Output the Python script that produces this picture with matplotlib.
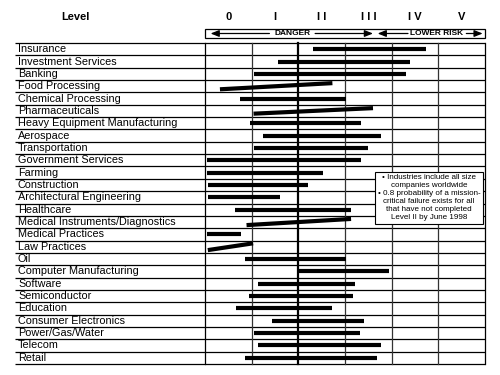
import matplotlib
matplotlib.use("Agg")
import matplotlib.pyplot as plt
import matplotlib.transforms as mtrans

plt.rcParams['font.family'] = ['Liberation Sans', 'DejaVu Sans']

industries = ["Insurance", "Investment Services", "Banking", "Food Processing",
              "Chemical Processing", "Pharmaceuticals", "Heavy Equipment Manufacturing",
              "Aerospace", "Transportation", "Government Services", "Farming",
              "Construction", "Architectural Engineering", "Healthcare",
              "Medical Instruments/Diagnostics", "Medical Practices", "Law Practices",
              "Oil", "Computer Manufacturing", "Software", "Semiconductor", "Education",
              "Consumer Electronics", "Power/Gas/Water", "Telecom", "Retail"]
start_level = [2.31, 1.56, 1.06, 0.32, 0.74, 1.04, 0.96, 1.24, 1.05, 0.04, 0.04,
               0.06, 0.06, 0.65, 0.89, 0.04, 0.06, 0.85, 2.00, 1.13, 0.94, 0.67,
               1.43, 1.04, 1.13, 0.85]
end_level = [4.73, 4.39, 4.31, 2.73, 3.03, 3.60, 3.35, 3.77, 3.50, 3.35, 2.53,
             2.21, 1.60, 3.13, 3.13, 0.77, 1.03, 3.03, 3.95, 3.21, 3.18, 2.72,
             3.41, 3.32, 3.78, 3.68]
# rise of the bar from its start to its end, in rows (slanted bars)
slant = [0, 0, 0, 0.5, 0, 0.45, 0, 0, 0, 0, 0, 0, 0, 0, 0.5, 0, 0.55,
         0, 0, 0, 0, 0, 0, 0, 0, 0]
level_labels = ["0", "I", "I I", "I I I", "I V", "V"]
note_lines = ["• Industries include all size", "companies worldwide",
              "• 0.8 probability of a mission-", "critical failure exists for all",
              "that have not completed", "Level II by June 1998"]

fig = plt.figure(figsize=(5, 3.75), dpi=100)
W, H = 500, 375
gx0, gx1, gy0, gy1 = 205, 485, 43, 364
ax = fig.add_axes([gx0 / W, 1 - gy1 / H, (gx1 - gx0) / W, (gy1 - gy0) / H])
n = len(industries)
ax.set_xlim(0, 6)
ax.set_ylim(n, 0)
ax.axis('off')

yt = ax.get_yaxis_transform()   # x axes, y data
xt = ax.get_xaxis_transform()   # x data, y axes
label_x = (18 - gx0) / (gx1 - gx0)
line_x = (15 - gx0) / (gx1 - gx0)

# row lines
for i in range(n + 1):
    ax.plot([line_x, 1], [i, i], transform=yt, clip_on=False, color='black', lw=0.9,
            solid_capstyle='butt')
# column lines
for c in range(7):
    lw = 1.6 if c == 2 else 0.9
    col = 'black' if c in (0, 2, 6) else '#333333'
    ax.plot([c, c], [0, n], color=col, lw=lw, clip_on=False)

# labels
for i, name in enumerate(industries):
    ax.text(label_x, i + 0.5, name, transform=yt, ha='left', va='center',
            fontsize=7.8, clip_on=False)

# bars
for i in range(n):
    y0 = i + 0.5 + slant[i] / 2
    y1 = i + 0.5 - slant[i] / 2
    ax.plot([start_level[i], end_level[i]], [y0, y1], color='black', lw=3.0,
            solid_capstyle='butt', zorder=3)

# header
hy = 1 + (gy0 - 17) / (gy1 - gy0)
ax.text((75 - gx0) / (gx1 - gx0), hy, "Level", transform=ax.transAxes, ha='center',
        va='center', fontsize=8, fontweight='bold')
for c, lab in enumerate(level_labels):
    ax.text(c + 0.5, hy, lab, transform=xt, ha='center', va='center', fontsize=8,
            fontweight='bold', clip_on=False)

# danger / lower risk box
by0 = 1 + (gy0 - 38) / (gy1 - gy0)
by1 = 1 + (gy0 - 29) / (gy1 - gy0)
bym = (by0 + by1) / 2
ax.add_patch(plt.Rectangle((0, by0), 6, by1 - by0, transform=xt, fill=False,
                           ec='black', lw=0.9, clip_on=False))
arr = dict(arrowstyle='-|>,head_length=0.5,head_width=0.2', color='black', lw=0.9,
           shrinkA=0, shrinkB=0)
ax.annotate('', xy=(0.12, bym), xytext=(1.38, bym), xycoords=xt, textcoords=xt,
            arrowprops=arr, annotation_clip=False)
ax.annotate('', xy=(3.6, bym), xytext=(2.36, bym), xycoords=xt, textcoords=xt,
            arrowprops=arr, annotation_clip=False)
ax.text(1.87, bym, "DANGER", transform=xt, ha='center', va='center', fontsize=6,
        fontweight='bold')
ax.annotate('', xy=(3.7, bym), xytext=(4.35, bym), xycoords=xt, textcoords=xt,
            arrowprops=arr, annotation_clip=False)
ax.annotate('', xy=(5.95, bym), xytext=(5.6, bym), xycoords=xt, textcoords=xt,
            arrowprops=arr, annotation_clip=False)
ax.text(4.97, bym, "LOWER RISK", transform=xt, ha='center', va='center', fontsize=6,
        fontweight='bold')

# note box
ax.text(4.8, 12.55, "\n".join(note_lines), ha='center', va='center', fontsize=5.8,
        linespacing=1.2, zorder=5,
        bbox=dict(boxstyle='square,pad=0.3', fc='white', ec='black', lw=0.8))

fig.savefig("out.png", dpi=100)
